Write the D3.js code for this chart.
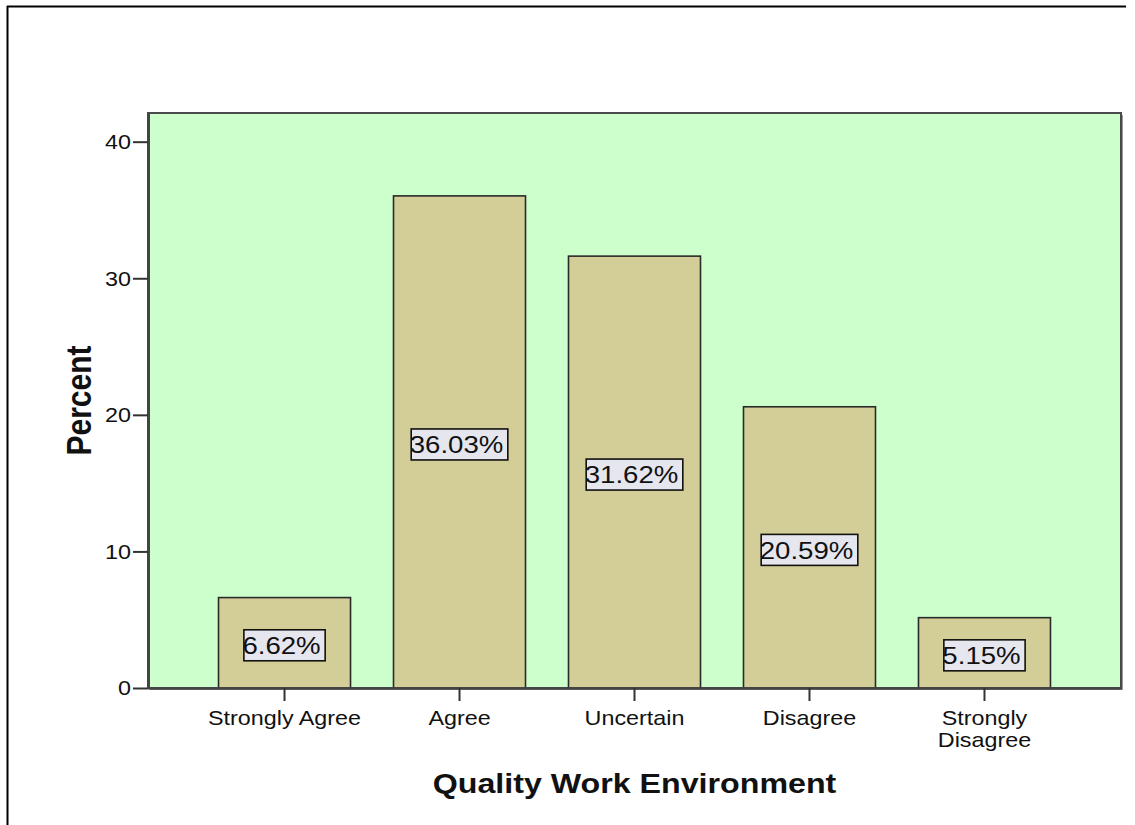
<!DOCTYPE html>
<html>
<head>
<meta charset="utf-8">
<script src="https://cdn.jsdelivr.net/npm/d3@7"></script>
<style>
  html, body { margin: 0; padding: 0; background: #fff; }
  svg { display: block; }
  text { font-family: "Liberation Sans", Arial, sans-serif; fill: #111; }
</style>
</head>
<body>
<svg id="chart" width="1135" height="825"></svg>
<script>
const categories = ["Strongly Agree", "Agree", "Uncertain", "Disagree", "Strongly Disagree"];
const categoryLines = [["Strongly Agree"], ["Agree"], ["Uncertain"], ["Disagree"], ["Strongly", "Disagree"]];
const percents = [6.62, 36.03, 31.62, 20.59, 5.15];
const valueLabels = ["6.62%", "36.03%", "31.62%", "20.59%", "5.15%"];
const yTicks = [0, 10, 20, 30, 40];
const yTitle = "Percent";
const xTitle = "Quality Work Environment";

const SX = 1.15; // horizontal stretch of the original picture
const svg = d3.select("#chart");

// outer frame (left and top lines)
svg.append("line").attr("x1", 7.5).attr("y1", 6).attr("x2", 7.5).attr("y2", 825)
  .attr("stroke", "#000").attr("stroke-width", 2);
svg.append("line").attr("x1", 7).attr("y1", 6.5).attr("x2", 1126).attr("y2", 6.5)
  .attr("stroke", "#000").attr("stroke-width", 2);

const plot = { left: 148, top: 113, right: 1121, bottom: 688 };

const x = d3.scaleBand().domain(categories)
  .range([plot.left, plot.right]).paddingInner(0.2457).paddingOuter(0.403);
const y = d3.scaleLinear().domain([0, 42.1]).range([plot.bottom, plot.top]);

// plot background with slight shadow
svg.append("rect").attr("x", plot.left + 2).attr("y", plot.top + 2)
  .attr("width", plot.right - plot.left).attr("height", plot.bottom - plot.top)
  .attr("fill", "#9a9a9a");
svg.append("rect").attr("x", plot.left).attr("y", plot.top)
  .attr("width", plot.right - plot.left).attr("height", plot.bottom - plot.top)
  .attr("fill", "#ccffcc").attr("stroke", "#4a4a4a").attr("stroke-width", 2);

// bars
svg.append("g").selectAll("rect").data(percents).join("rect")
  .attr("x", (d, i) => x(categories[i]))
  .attr("y", d => y(d))
  .attr("width", x.bandwidth())
  .attr("height", d => y(0) - y(d))
  .attr("fill", "#d3ce97")
  .attr("stroke", "#2a2a2a").attr("stroke-width", 1.6);

// value labels
const defs = svg.append("defs");
const lab = svg.append("g");
const LFS = 24;
percents.forEach((d, i) => {
  const cx = x(categories[i]) + x.bandwidth() / 2;
  const cy = (y(d) + y(0)) / 2 + 2.5;
  const t = lab.append("text").text(valueLabels[i])
    .attr("font-size", LFS).attr("text-anchor", "middle");
  const w = t.node().getComputedTextLength() * SX;
  const bw = w + 3, bh = 31;
  t.remove();
  defs.append("clipPath").attr("id", "clip" + i).append("rect")
    .attr("x", cx - bw / 2).attr("y", cy - bh / 2).attr("width", bw).attr("height", bh);
  lab.append("rect").attr("x", cx - bw / 2).attr("y", cy - bh / 2)
    .attr("width", bw).attr("height", bh)
    .attr("fill", "#e6e6ee");
  lab.append("g").attr("clip-path", "url(#clip" + i + ")")
    .append("text").text(valueLabels[i])
    .attr("font-size", LFS).attr("text-anchor", "middle").attr("dy", "0.36em")
    .attr("fill", "#222")
    .attr("transform", `translate(${cx - 3},${cy}) scale(${SX},1)`);
  lab.append("rect").attr("x", cx - bw / 2).attr("y", cy - bh / 2)
    .attr("width", bw).attr("height", bh)
    .attr("fill", "none").attr("stroke", "#111").attr("stroke-width", 1.6);
});

// y axis
const yAxis = svg.append("g").attr("transform", `translate(${plot.left},0)`)
  .call(d3.axisLeft(y).tickValues(yTicks).tickSize(15).tickPadding(2).tickSizeOuter(0));
yAxis.select(".domain").attr("stroke", "#444").attr("stroke-width", 3);
yAxis.selectAll(".tick line").attr("stroke", "#333").attr("stroke-width", 2);
yAxis.selectAll(".tick text")
  .attr("x", null).attr("dy", null)
  .attr("font-size", 20.3).attr("font-family", "Liberation Sans, Arial, sans-serif")
  .attr("fill", "#1a1a1a").attr("dominant-baseline", "central")
  .attr("transform", `translate(-17,0) scale(${SX},1)`);

// x axis
const xAxis = svg.append("g").attr("transform", `translate(0,${plot.bottom})`)
  .call(d3.axisBottom(x).tickSize(13).tickSizeOuter(0));
xAxis.select(".domain").attr("stroke", "#444").attr("stroke-width", 2.5);
xAxis.selectAll(".tick line").attr("stroke", "#333").attr("stroke-width", 2);
xAxis.selectAll(".tick text").remove();
xAxis.selectAll(".tick").each(function (c) {
  const g = d3.select(this);
  const lines = categoryLines[categories.indexOf(c)];
  lines.forEach((ln, k) => {
    g.append("text").text(ln)
      .attr("font-size", 20.3).attr("text-anchor", "middle")
      .attr("fill", "#1a1a1a")
      .attr("transform", `translate(0,${36.5 + k * 22.5}) scale(${SX},1)`);
  });
});

// axis titles
svg.append("text").text(yTitle)
  .attr("font-size", 30).attr("font-weight", "bold").attr("text-anchor", "middle")
  .attr("fill", "#000")
  .attr("transform", `translate(91,${(plot.top + plot.bottom) / 2}) scale(${SX},1) rotate(-90)`);

svg.append("text").text(xTitle)
  .attr("font-size", 28).attr("font-weight", "bold").attr("text-anchor", "middle")
  .attr("fill", "#000")
  .attr("transform", `translate(${(plot.left + plot.right) / 2},793) scale(${SX},1)`);
</script>
</body>
</html>
